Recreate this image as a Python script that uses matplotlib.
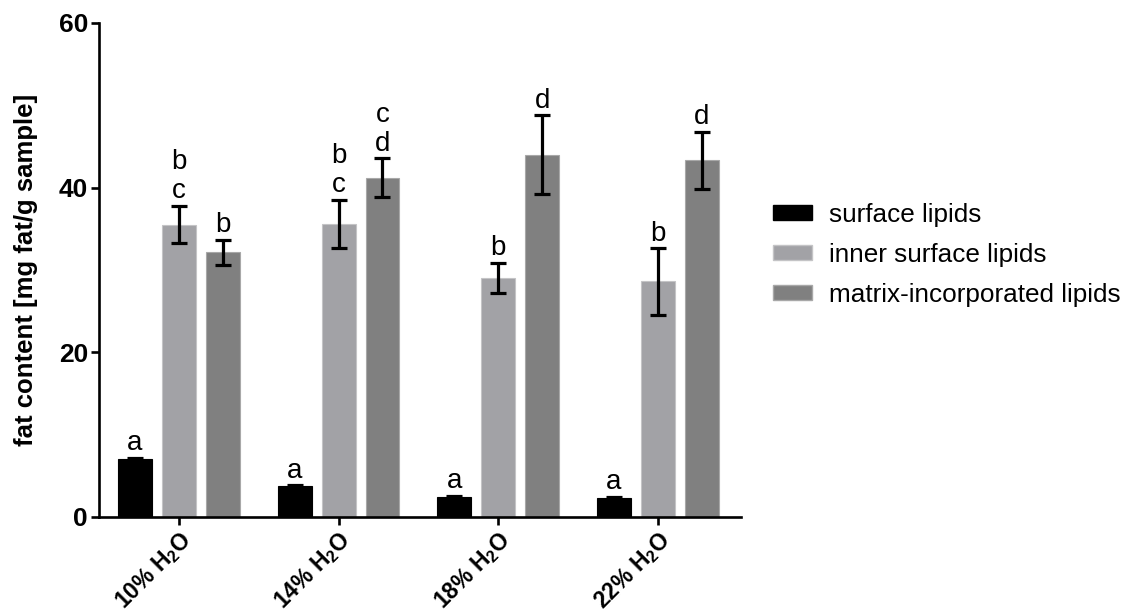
import numpy as np
from matplotlib import pyplot as plt
from matplotlib.patches import Patch

plt.rcParams['font.family'] = ['Liberation Sans', 'DejaVu Sans']
plt.rcParams['mathtext.default'] = 'regular'

# data
groups = ["10% H$_2$O", "14% H$_2$O", "18% H$_2$O", "22% H$_2$O"]
series = ["surface lipids", "inner surface lipids", "matrix-incorporated lipids"]
surface = [6.95, 3.65, 2.4, 2.2]
surface_err = [0.2, 0.15, 0.15, 0.2]
inner = [35.5, 35.6, 29.0, 28.6]
inner_err = [2.3, 2.9, 1.85, 4.05]
matrix = [32.1, 41.2, 44.0, 43.3]
matrix_err = [1.55, 2.4, 4.8, 3.5]
letters = [["a", "a", "a", "a"],
           ["b\nc", "b\nc", "b", "b"],
           ["b", "c\nd", "d", "d"]]

colors = ["#000000", "#a2a2a6", "#808080"]
edges = ["#000000", "#c4c4c6", "#a8a8a8"]

fig = plt.figure(figsize=(11.26, 6.15), dpi=100)
ax = fig.add_axes([99 / 1126, 1 - 516.5 / 615, (741 - 99) / 1126, (516.5 - 23) / 615])

x = np.arange(len(groups))
width = 0.2125
offsets = [-0.275, 0.0, 0.275]
vals = [surface, inner, matrix]
errs = [surface_err, inner_err, matrix_err]

for i in range(3):
    pos = x + offsets[i]
    ax.bar(pos, vals[i], width, color=colors[i], edgecolor=edges[i], linewidth=0.8, zorder=2)
    ax.errorbar(pos, vals[i], yerr=errs[i], fmt="none", ecolor="black",
                elinewidth=2.3, capsize=5.5, capthick=2.3, zorder=3)
    for j in range(len(groups)):
        ax.annotate(letters[i][j], (pos[j], vals[i][j] + errs[i][j]),
                    xytext=(0, 1), textcoords="offset points",
                    ha="center", va="bottom", fontsize=20, linespacing=1.15)

ax.set_xlim(-0.5, 3.52)
ax.set_ylim(0, 60)
ax.set_yticks([0, 20, 40, 60])
ax.set_xticks(x)
ax.set_xticklabels(groups, rotation=45, ha="right", va="top",
                   rotation_mode="anchor", fontsize=16.5, fontweight="bold")
for lab in ax.get_yticklabels():
    lab.set_fontsize(19)
    lab.set_fontweight("bold")

for s in ["top", "right"]:
    ax.spines[s].set_visible(False)
for s in ["left", "bottom"]:
    ax.spines[s].set_linewidth(1.9)
ax.tick_params(axis="both", width=1.9, length=6, direction="out")
ax.tick_params(axis="y", pad=2)
ax.tick_params(axis="x", pad=2)

ax.set_ylabel("fat content [mg fat/g sample]", fontsize=18.5, fontweight="bold")
ax.yaxis.set_label_coords(-0.095, 0.5)

handles = [Patch(facecolor=colors[i], edgecolor=edges[i]) for i in range(3)]
fig.legend(handles, series, loc="center left", bbox_to_anchor=(773 / 1126, 1 - 255 / 615),
           frameon=False, fontsize=18.8, handlelength=1.5, handleheight=0.5,
           handletextpad=0.65, labelspacing=0.62, borderpad=0, borderaxespad=0)

fig.savefig("out.png", dpi=100)
